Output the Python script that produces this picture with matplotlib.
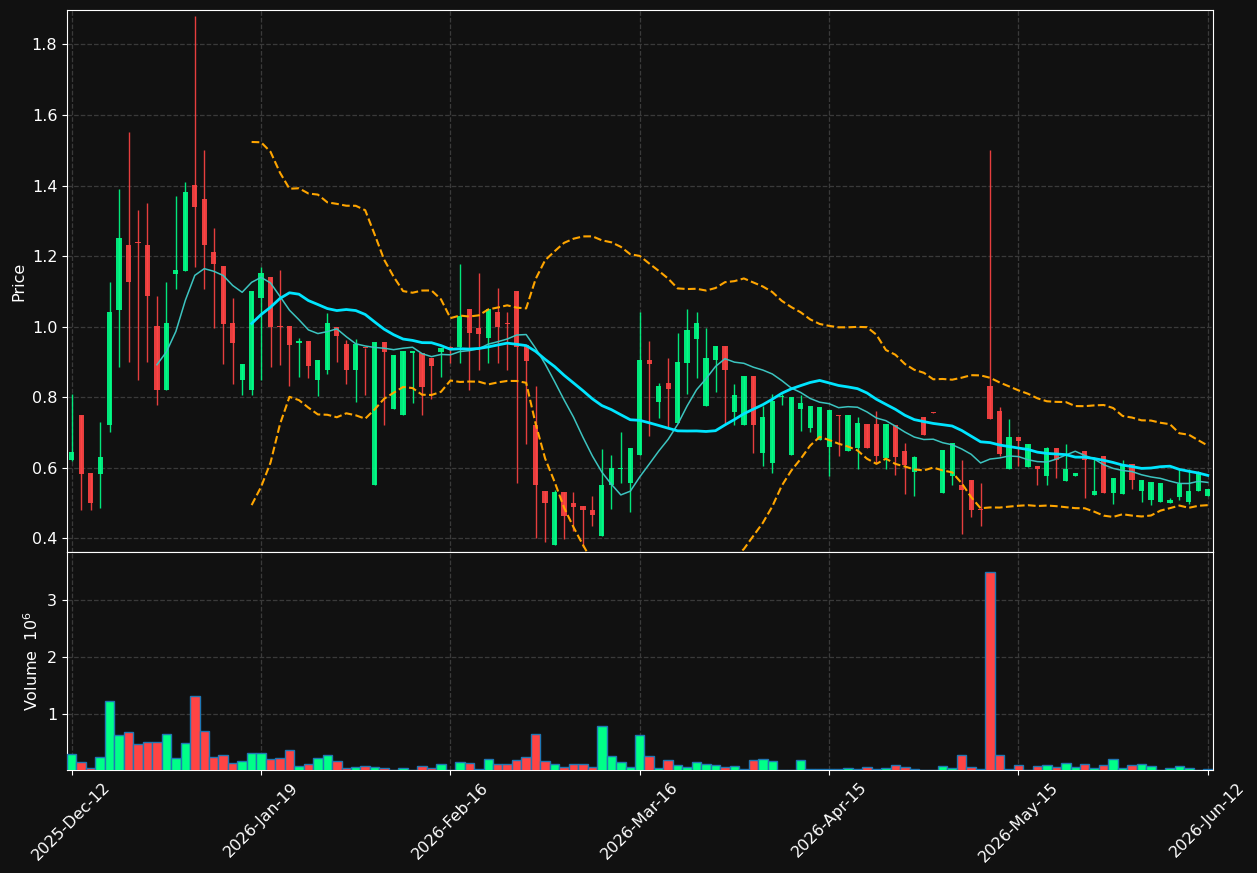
import numpy as np
import pandas as pd
import matplotlib
matplotlib.use('Agg')
import matplotlib.pyplot as plt

# daily OHLC (index based x axis, like mplfinance)
opens = [0.623, 0.750, 0.585, 0.582, 0.722, 1.048, 1.232, 1.240, 1.232, 1.001,
         0.819, 1.149, 1.159, 1.401, 1.362, 1.212, 1.171, 1.010, 0.848, 0.819,
         1.080, 1.141, 1.001, 1.001, 0.954, 0.960, 0.849, 0.878, 1.000, 0.951,
         0.878, 0.940, 0.550, 0.957, 0.765, 0.748, 0.925, 0.924, 0.910, 0.929,
         0.942, 0.942, 1.050, 0.996, 0.968, 1.041, 1.009, 1.101, 0.947, 0.722,
         0.534, 0.382, 0.531, 0.500, 0.492, 0.479, 0.405, 0.551, 0.597, 0.558,
         0.637, 0.905, 0.786, 0.840, 0.727, 0.898, 0.964, 0.774, 0.904, 0.945,
         0.758, 0.722, 0.860, 0.641, 0.612, 0.801, 0.636, 0.767, 0.712, 0.679,
         0.660, 0.749, 0.648, 0.656, 0.725, 0.725, 0.627, 0.720, 0.646, 0.589,
         0.744, 0.757, 0.528, 0.577, 0.550, 0.566, 0.480, 0.832, 0.761, 0.597,
         0.687, 0.602, 0.605, 0.577, 0.656, 0.563, 0.577, 0.646, 0.523, 0.633,
         0.528, 0.526, 0.611, 0.533, 0.508, 0.503, 0.500, 0.518, 0.504, 0.533,
         0.520]
highs = [0.809, 0.750, 0.585, 0.729, 1.127, 1.389, 1.551, 1.330, 1.350, 1.088,
         1.127, 1.369, 1.409, 1.880, 1.500, 1.279, 1.171, 1.080, 0.895, 1.101,
         1.170, 1.141, 1.161, 1.001, 0.969, 0.960, 0.904, 1.039, 1.000, 0.962,
         0.964, 0.940, 0.957, 0.957, 0.919, 0.931, 0.931, 0.924, 0.910, 0.940,
         0.944, 1.178, 1.050, 1.151, 1.050, 1.109, 1.040, 1.101, 0.947, 0.833,
         0.534, 0.538, 0.531, 0.530, 0.492, 0.520, 0.654, 0.636, 0.700, 0.656,
         1.040, 0.959, 0.840, 0.912, 0.981, 1.050, 1.040, 0.996, 0.945, 0.945,
         0.838, 0.860, 0.860, 0.774, 0.809, 0.809, 0.801, 0.807, 0.776, 0.772,
         0.764, 0.750, 0.750, 0.743, 0.725, 0.760, 0.725, 0.720, 0.671, 0.633,
         0.744, 0.757, 0.650, 0.669, 0.621, 0.566, 0.556, 1.500, 0.771, 0.737,
         0.687, 0.667, 0.605, 0.658, 0.656, 0.666, 0.585, 0.646, 0.631, 0.633,
         0.572, 0.622, 0.611, 0.566, 0.560, 0.556, 0.515, 0.597, 0.597, 0.592,
         0.540]
lows = [0.620, 0.479, 0.479, 0.487, 0.700, 0.885, 0.899, 0.850, 0.899, 0.779,
        0.819, 1.107, 1.159, 1.170, 1.107, 0.996, 0.894, 0.838, 0.807, 0.807,
        0.850, 0.885, 0.891, 0.831, 0.858, 0.853, 0.804, 0.866, 0.899, 0.838,
        0.787, 0.807, 0.550, 0.722, 0.765, 0.748, 0.784, 0.748, 0.794, 0.858,
        0.898, 0.898, 0.819, 0.878, 0.898, 0.898, 0.878, 0.558, 0.668, 0.400,
        0.390, 0.382, 0.397, 0.420, 0.375, 0.434, 0.405, 0.482, 0.558, 0.474,
        0.637, 0.689, 0.740, 0.715, 0.727, 0.809, 0.853, 0.774, 0.814, 0.725,
        0.722, 0.722, 0.643, 0.604, 0.584, 0.779, 0.636, 0.705, 0.700, 0.679,
        0.577, 0.632, 0.648, 0.597, 0.656, 0.614, 0.597, 0.580, 0.525, 0.521,
        0.694, 0.756, 0.528, 0.550, 0.412, 0.459, 0.436, 0.737, 0.632, 0.597,
        0.605, 0.602, 0.550, 0.550, 0.572, 0.563, 0.577, 0.515, 0.523, 0.528,
        0.498, 0.526, 0.541, 0.503, 0.494, 0.503, 0.500, 0.508, 0.498, 0.533,
        0.520]
closes = [0.644, 0.582, 0.499, 0.631, 1.040, 1.251, 1.127, 1.238, 1.088, 0.819,
          1.009, 1.161, 1.381, 1.339, 1.230, 1.177, 1.008, 0.954, 0.895, 1.101,
          1.152, 1.000, 0.999, 0.949, 0.960, 0.889, 0.904, 1.009, 0.974, 0.878,
          0.951, 0.938, 0.957, 0.927, 0.919, 0.931, 0.931, 0.828, 0.889, 0.940,
          0.940, 1.031, 0.983, 0.980, 1.050, 1.000, 1.007, 0.942, 0.902, 0.550,
          0.499, 0.531, 0.464, 0.489, 0.479, 0.467, 0.551, 0.599, 0.599, 0.656,
          0.905, 0.893, 0.832, 0.824, 0.900, 0.991, 1.011, 0.912, 0.945, 0.878,
          0.806, 0.860, 0.722, 0.743, 0.789, 0.804, 0.801, 0.784, 0.776, 0.772,
          0.764, 0.747, 0.750, 0.727, 0.656, 0.632, 0.725, 0.629, 0.609, 0.630,
          0.694, 0.756, 0.650, 0.669, 0.538, 0.481, 0.479, 0.739, 0.640, 0.687,
          0.676, 0.667, 0.597, 0.656, 0.622, 0.597, 0.585, 0.622, 0.535, 0.528,
          0.572, 0.607, 0.566, 0.566, 0.560, 0.556, 0.508, 0.555, 0.535, 0.589,
          0.540]
# volume in millions
volumes = [0.29, 0.15, 0.045, 0.24, 1.23, 0.63, 0.68, 0.47, 0.50, 0.50,
           0.65, 0.22, 0.49, 1.32, 0.70, 0.25, 0.27, 0.13, 0.17, 0.31,
           0.31, 0.20, 0.22, 0.36, 0.08, 0.115, 0.22, 0.27, 0.17, 0.045,
           0.06, 0.08, 0.06, 0.045, 0.02, 0.045, 0.02, 0.08, 0.045, 0.115,
           0.02, 0.15, 0.13, 0.025, 0.20, 0.115, 0.115, 0.185, 0.24, 0.645,
           0.17, 0.115, 0.06, 0.115, 0.115, 0.06, 0.79, 0.26, 0.15, 0.06,
           0.63, 0.26, 0.045, 0.185, 0.10, 0.06, 0.15, 0.115, 0.10, 0.06,
           0.08, 0.025, 0.185, 0.20, 0.17, 0.01, 0.01, 0.185, 0.025, 0.025,
           0.025, 0.025, 0.045, 0.025, 0.06, 0.025, 0.045, 0.10, 0.06, 0.025,
           0.01, 0.01, 0.08, 0.045, 0.27, 0.06, 0.025, 3.50, 0.27, 0.025,
           0.10, 0.02, 0.08, 0.10, 0.06, 0.13, 0.06, 0.115, 0.045, 0.10,
           0.20, 0.045, 0.10, 0.115, 0.08, 0.01, 0.045, 0.08, 0.045, 0.01,
           0.025]
tick_pos = [0, 20, 40, 60, 80, 100, 120]
tick_labels = ['2025-Dec-12', '2026-Jan-19', '2026-Feb-16', '2026-Mar-16',
               '2026-Apr-15', '2026-May-15', '2026-Jun-12']

BG = '#111111'
UP = '#00ff88'
DOWN = '#ff4444'
FS = 11.5

df = pd.DataFrame({'Open': opens, 'High': highs, 'Low': lows,
                   'Close': closes, 'Volume': volumes})
x = np.arange(len(df))
up = df['Close'] >= df['Open']
cols = np.where(up, UP, DOWN)

ma10 = df['Close'].rolling(10).mean()
ma20 = df['Close'].rolling(20).mean()
sd20 = df['Close'].rolling(20).std()
bb_up = ma20 + 2 * sd20
bb_lo = ma20 - 2 * sd20

fig = plt.figure(figsize=(12.57, 8.73), dpi=100, facecolor=BG)
ax = fig.add_axes([0.0533, 0.3677, 0.9117, 0.6208])
axv = fig.add_axes([0.0533, 0.1180, 0.9117, 0.2497], sharex=ax)

for a in (ax, axv):
    a.set_facecolor(BG)
    for s in a.spines.values():
        s.set_color('white')
    a.tick_params(colors='white', labelcolor='white', labelsize=FS)
    a.grid(True, linestyle='--', color='#3a3a3a', linewidth=0.9)
    a.set_axisbelow(True)

# candles
body_lo = np.minimum(df['Open'], df['Close'])
body_h = np.maximum(np.abs(df['Close'] - df['Open']), 0.003)
ax.vlines(x, df['Low'], df['High'], colors=cols, linewidth=1, alpha=0.9, zorder=2)
ax.bar(x, body_h, bottom=body_lo, width=0.55, color=cols, alpha=0.9,
       linewidth=0, zorder=3)

ax.plot(x, ma10, color='#3cc4c0', linewidth=1.1, zorder=4)
ax.plot(x, ma20, color='#00e5ff', linewidth=2, zorder=4)
ax.plot(x, bb_up, color='#ffa500', linestyle='--', linewidth=1.5, zorder=4)
ax.plot(x, bb_lo, color='#ffa500', linestyle='--', linewidth=1.5, zorder=4)

ax.set_ylim(0.361, 1.8975)
ax.set_yticks([0.4, 0.6, 0.8, 1.0, 1.2, 1.4, 1.6, 1.8])
ax.set_ylabel('Price', color='white', fontsize=FS)
ax.tick_params(axis='x', labelbottom=False)

# volume
axv.bar(x, df['Volume'], width=1.0, color=cols, edgecolor='#1f77b4',
        linewidth=1, zorder=3)
axv.set_ylim(0.015, 3.85)
axv.set_yticks([1, 2, 3])
axv.set_ylabel('Volume  $10^{6}$', color='white', fontsize=FS)

axv.set_xlim(-0.5, 120.55)
axv.set_xticks(tick_pos)
axv.set_xticklabels(tick_labels, rotation=45, ha='center')

fig.savefig('out.png', dpi=100, facecolor=BG)
